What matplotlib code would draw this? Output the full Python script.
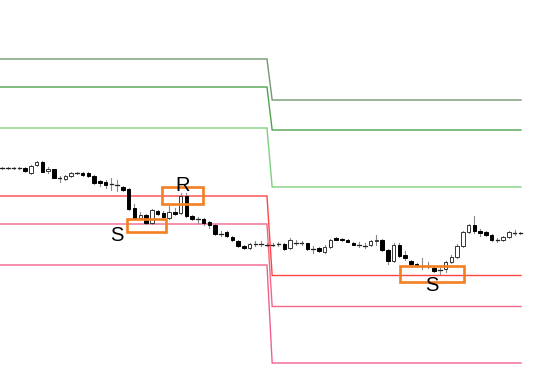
import matplotlib
matplotlib.use("Agg")
import matplotlib.pyplot as plt
from matplotlib.patches import Rectangle

# ---- data (price units) ----
opens = [232, 232, 232, 232, 232, 227, 235, 238, 229, 231, 222, 221, 224, 227, 227, 227,
         224, 219, 218, 216, 215, 213, 211, 192, 182, 185, 177, 189, 187, 182, 188, 187,
         204, 184, 181, 181, 178, 175, 166, 168, 163, 159, 154, 152, 156, 156, 155, 155,
         156, 156, 152, 157, 157, 157, 151, 152, 148, 153, 162, 161, 160, 157, 155, 154,
         155, 159, 160, 150, 139, 155, 145, 139, 136, 134, 134, 132, 130, 131, 138, 143,
         154, 168, 175, 169, 168, 165, 160, 160, 163, 167, 167]
closes = [232, 232, 232, 232, 229, 234, 238, 228, 231, 222, 222, 224, 227, 227, 225, 224,
          217, 217, 215, 216, 215, 210, 191, 182, 185, 177, 190, 186, 183, 188, 186, 204,
          184, 181, 181, 177, 175, 166, 166, 164, 160, 154, 152, 156, 156, 156, 155, 155,
          156, 151, 160, 157, 157, 151, 151, 149, 153, 160, 160, 160, 158, 155, 155, 154,
          159, 160, 150, 139, 155, 144, 142, 136, 134, 134, 134, 129, 130, 138, 143, 154,
          168, 175, 169, 167, 165, 160, 160, 163, 168, 167, 167]
highs = [233, 233, 233, 233, 233, 235, 239, 239, 233, 231, 224, 225, 228, 228, 228, 228,
         225, 220, 220, 222, 220, 214, 212, 196, 188, 186, 191, 190, 189, 194, 192, 207,
         207, 185, 183, 182, 179, 176, 169, 169, 164, 160, 155, 157, 159, 159, 157, 157,
         158, 157, 162, 160, 159, 157, 154, 153, 155, 161, 163, 162, 161, 158, 158, 157,
         160, 165, 161, 151, 157, 157, 149, 140, 137, 142, 138, 134, 133, 139, 145, 156,
         169, 176, 184, 171, 169, 166, 162, 164, 169, 170, 168]
lows = [231, 231, 231, 231, 228, 226, 234, 228, 227, 222, 218, 220, 223, 226, 224, 223,
        216, 214, 212, 210, 209, 209, 190, 181, 181, 176, 176, 185, 182, 181, 185, 186,
        183, 180, 177, 175, 172, 165, 164, 163, 159, 153, 151, 151, 154, 154, 154, 154,
        154, 150, 151, 155, 155, 150, 147, 148, 147, 152, 160, 159, 158, 155, 153, 152,
        154, 155, 149, 136, 138, 143, 140, 134, 133, 131, 132, 128, 126, 128, 137, 142,
        153, 167, 167, 164, 164, 159, 158, 159, 162, 165, 166]

# pivot levels: (left period, right period)
resist_levels_left = [341, 313, 272]
resist_levels_right = [300, 270, 213]
support_levels_left = [204, 176, 135]
support_levels_right = [124.5, 93.5, 37]

# zones: (start idx, end idx, low price, high price, label)
zone_starts = [21.7, 27.8, 69.1]
zone_ends = [28.5, 34.9, 80.2]
zone_lows = [168, 196, 118]
zone_highs = [181, 213, 134]
zone_labels = ["S", "R", "S"]

# ---- figure ----
fig = plt.figure(figsize=(5.4, 3.9), dpi=100)
ax = fig.add_axes([0, 0, 1, 1])
ax.set_xlim(-0.35, 93.4)
ax.set_ylim(10, 400)
ax.axis("off")

step_a, step_b, x_end = 46.0, 46.9, 90.1
res_colors = ["#739873", "#4ea24e", "#7fcf7f"]
sup_colors = ["#ff4444", "#f2678a", "#f2608c"]
for lvls_l, lvls_r, cols in [(resist_levels_left, resist_levels_right, res_colors),
                             (support_levels_left, support_levels_right, sup_colors)]:
    for yl, yr, c in zip(lvls_l, lvls_r, cols):
        ax.plot([-0.35, step_a, step_b, x_end], [yl, yl, yr, yr], color=c, lw=1.0,
                solid_joinstyle="miter", zorder=1)

# candles
w = 0.6
for i, (o, c, h, l) in enumerate(zip(opens, closes, highs, lows)):
    ax.plot([i, i], [l, h], color="#8a8a8a", lw=0.8, zorder=2)
    bot, top = min(o, c), max(o, c)
    if top - bot < 0.8:
        ax.plot([i - w / 2, i + w / 2], [o, o], color="#222222", lw=0.9, zorder=3)
    elif c > o:
        ax.add_patch(Rectangle((i - w / 2, bot), w, top - bot, facecolor="white",
                               edgecolor="#333333", lw=0.7, zorder=3))
    else:
        ax.add_patch(Rectangle((i - w / 2, bot), w, top - bot, facecolor="black",
                               edgecolor="black", lw=0.7, zorder=3))

# zones
for xs, xe, lo, hi, lab in zip(zone_starts, zone_ends, zone_lows, zone_highs, zone_labels):
    ax.add_patch(Rectangle((xs, lo), xe - xs, hi - lo, facecolor="none",
                           edgecolor="#f47f20", lw=1.9, zorder=4))
    if lab == "R":
        ax.text((xs + xe) / 2, hi + 1.5, lab, ha="center", va="center", fontsize=14.5,
                family="Liberation Sans", zorder=5)
    else:
        tx = xs - 1.7 if xs < 40 else (xs + xe) / 2
        ax.text(tx, lo - 3.5, lab, ha="center", va="center", fontsize=14.5,
                family="Liberation Sans", zorder=5)

fig.savefig("out.png", dpi=100)
